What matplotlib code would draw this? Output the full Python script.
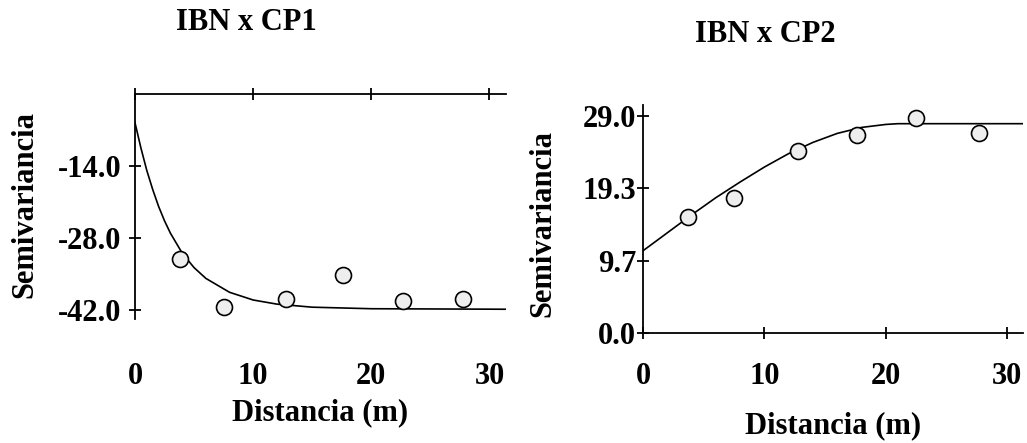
import numpy as np
import matplotlib
matplotlib.use("Agg")
import matplotlib.pyplot as plt

plt.rcParams.update({
    "font.family": "serif",
    "font.serif": ["Liberation Serif", "DejaVu Serif"],
    "font.weight": "bold",
    "font.size": 22,
})

# ---- IBN x CP1: experimental semivariogram + fitted model ----
h1 = [3.8, 7.5, 12.8, 17.6, 22.7, 27.8]
g1 = [-32.1, -41.5, -39.9, -35.3, -40.3, -39.9]
mh1 = [0, 0.5, 1, 1.5, 2, 2.5, 3, 4, 5, 6, 8, 10, 12, 15, 20, 31.5]
mg1 = [-5.6, -10.5, -14.9, -18.6, -21.9, -24.7, -27.1, -31.0, -33.8,
       -35.9, -38.6, -40.1, -40.9, -41.5, -41.8, -41.9]

# ---- IBN x CP2 ----
h2 = [3.7, 7.5, 12.8, 17.6, 22.5, 27.7]
g2 = [15.5, 18.1, 24.4, 26.5, 28.8, 26.7]
mh2 = [0, 2, 4, 6, 8, 10, 12, 14, 16, 18, 20, 21, 31.3]
mg2 = [11.0, 13.4, 15.8, 18.1, 20.2, 22.2, 24.0, 25.5, 26.7, 27.5, 27.9, 28.0, 28.0]

yt1 = [-14.0, -28.0, -42.0]
yt2 = [0.0, 29 / 3, 2 * 29 / 3, 29.0]
xt = [0, 10, 20, 30]

W, H = 1027, 443
fig = plt.figure(figsize=(W / 100, H / 100), dpi=100)

def px_axes(x0, x1, y0, y1):
    return fig.add_axes([x0 / W, 1 - y1 / H, (x1 - x0) / W, (y1 - y0) / H])

mk = dict(marker="o", ms=11.5, mfc="#eeeeee", mec="black", mew=1.2, ls="none", zorder=3)

# left panel: x axis drawn along y = 0 at the top
ax1 = px_axes(135, 506, 94, 319)
ax1.plot(mh1, mg1, color="black", lw=1.2)
ax1.plot(h1, g1, **mk)
ax1.set_xlim(0, 31.4)
ax1.set_ylim(-43.8, 0)
ax1.set_xticks(xt)
ax1.set_yticks(yt1)
ax1.set_yticklabels([f"{v:.1f}" for v in yt1])
for s in ["right", "bottom"]:
    ax1.spines[s].set_visible(False)
ax1.spines["top"].set_linewidth(1.3)
ax1.spines["left"].set_linewidth(1.3)
ax1.tick_params(axis="x", bottom=False, top=True, labelbottom=True, labeltop=False,
                direction="inout", length=8, width=1.3, pad=27)
ax1.tick_params(axis="y", direction="inout", length=8, width=1.3, pad=6)
ax1.set_xlabel("Distancia (m)", fontweight="bold")
ax1.xaxis.set_label_coords(0.5, -0.35)
ax1.set_ylabel("Semivariancia", fontweight="bold")
ax1.yaxis.set_label_coords(-0.257, 0.51)

# right panel
ax2 = px_axes(643, 1023, 105, 333)
ax2.plot(mh2, mg2, color="black", lw=1.2)
ax2.plot(h2, g2, **mk)
ax2.set_xlim(0, 31.3)
ax2.set_ylim(0, 30.5)
ax2.set_xticks(xt)
ax2.set_yticks(yt2)
ax2.set_yticklabels([f"{v:.1f}" for v in yt2])
for s in ["right", "top"]:
    ax2.spines[s].set_visible(False)
ax2.spines["bottom"].set_linewidth(1.3)
ax2.spines["left"].set_linewidth(1.3)
ax2.tick_params(axis="x", direction="inout", length=8, width=1.3, pad=17)
ax2.tick_params(axis="y", direction="inout", length=8, width=1.3, pad=1)
ax2.set_xlabel("Distancia (m)", fontweight="bold")
ax2.xaxis.set_label_coords(0.5, -0.345)
ax2.set_ylabel("Semivariancia", fontweight="bold")
ax2.yaxis.set_label_coords(-0.225, 0.48)

fig.text(246 / W, 1 - 22 / H, "IBN x CP1", ha="center", va="center", fontweight="bold")
fig.text(765 / W, 1 - 34 / H, "IBN x CP2", ha="center", va="center", fontweight="bold")

fig.savefig("out.png", dpi=100)
